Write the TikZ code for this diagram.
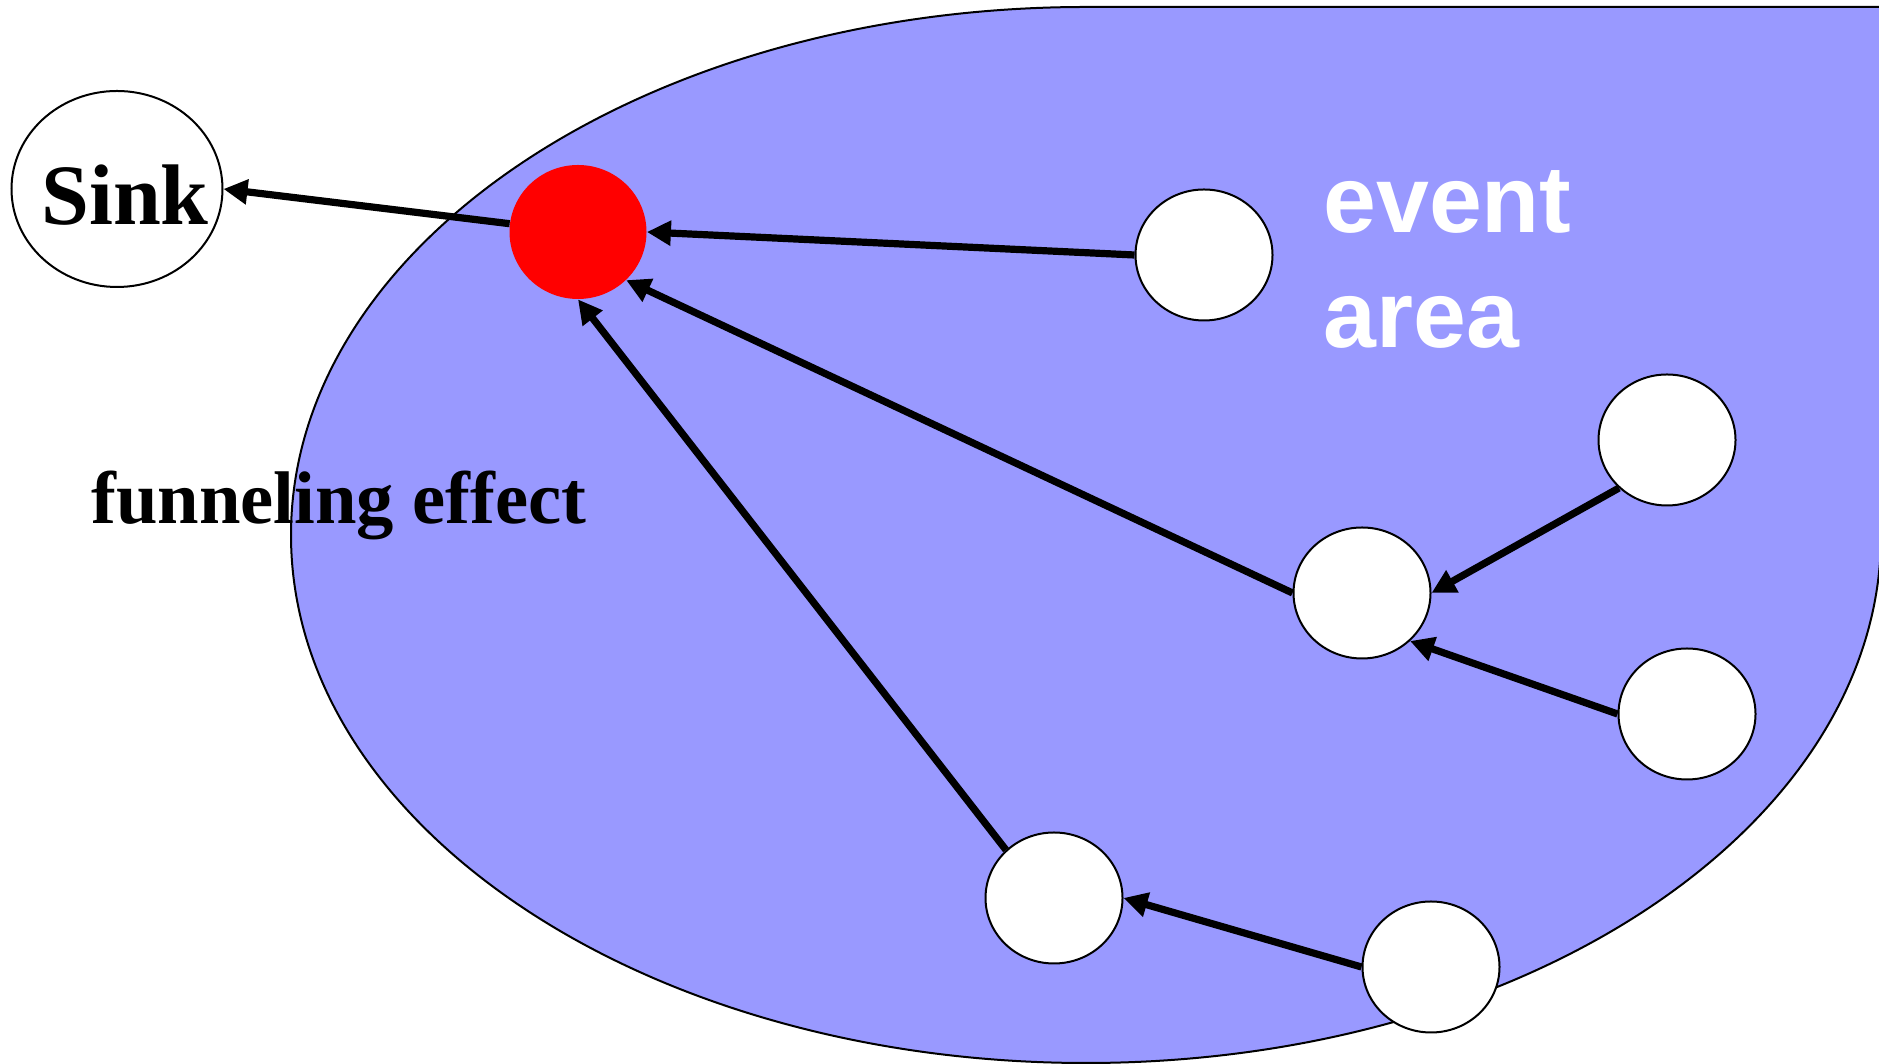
\documentclass[tikz,border=0pt]{standalone}
\usepackage{fontspec}
\setmainfont{Liberation Serif}
\newfontfamily\sansarial{Liberation Sans}
\usetikzlibrary{shapes.geometric,arrows.meta}
\definecolor{areablue}{RGB}{153,153,255}
\begin{document}
\begin{tikzpicture}[x=0.5pt,y=0.5pt,
  sensor/.style={ellipse, draw=black, line width=1pt, fill=white,
    minimum width=68.5pt, minimum height=65.5pt, inner sep=0pt},
  relay/.style={ellipse, fill=red, draw=none,
    minimum width=68.5pt, minimum height=67pt, inner sep=0pt},
  sinkbox/.style={ellipse, draw=black, line width=1pt, fill=white,
    minimum width=105.5pt, minimum height=98pt, inner sep=0pt,
    font=\bfseries\fontsize{43}{50}\selectfont, text height=35.4pt, text depth=0pt},
  funnel/.style={font=\bfseries\fontsize{37.3}{44}\selectfont, inner sep=0pt, anchor=base west},
  areatext/.style={text=white, font=\sansarial\bfseries\fontsize{47.5}{56}\selectfont,
    inner sep=0pt, anchor=base west},
  flow/.style={line width=3.6pt, -{Triangle[length=12pt,width=12pt]}}
]
\useasboundingbox (0,0) rectangle (1879,1064);
\clip (0,0) rectangle (1879,1064);

% event area
\filldraw[fill=areablue, draw=black, line width=1pt]
  (1086,1057) arc[start angle=90, end angle=360, x radius=397.5pt, y radius=264pt]
  -- (1900,529) -- (1900,1057) -- cycle;

% nodes
\node[sinkbox] (Sink) at (117,875) {\makebox[0pt]{\hspace{8pt}Sink}};
\node[relay] (R) at (578,832) {};
\node[sensor] (A) at (1204,809) {};
\node[sensor] (B) at (1667,624) {};
\node[sensor] (C) at (1362,471) {};
\node[sensor] (D) at (1687,350) {};
\node[sensor] (E) at (1054,166) {};
\node[sensor] (F) at (1431,97) {};

% texts
\node[funnel] (Funnel) at (91,540) {funneling effect};
\node[areatext] (Event) at (1323,831) {event};
\node[areatext] (Area) at (1323,716) {area};

% connectors
\draw[flow] (R) -- (Sink.east);
\draw[flow] (A.west) -- (R.east);
\draw[flow] (C.west) -- (R.-45);
\draw[flow] (E.135) -- (R.south);
\draw[flow] (B.225) -- (C.east);
\draw[flow] (D.west) -- (C.-45);
\draw[flow] (F.west) -- (E.east);
\end{tikzpicture}
\end{document}
